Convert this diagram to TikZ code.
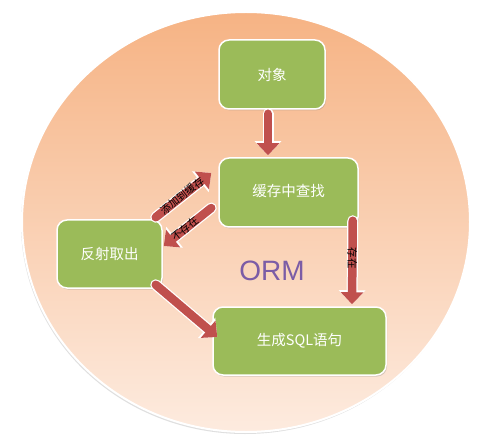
\documentclass[tikz,border=0pt]{standalone}
\usepackage{fontspec}
\setmainfont{Noto Sans CJK SC}
\newfontfamily\ormfont{Liberation Sans}
\usetikzlibrary{arrows.meta,calc,shadows}
\definecolor{boxgreen}{HTML}{9BBB59}
\definecolor{arrred}{HTML}{C0504D}
\definecolor{ormpurple}{HTML}{7B5CA6}
\definecolor{ringtop}{HTML}{F6B384}
\definecolor{ringbot}{HTML}{FDEBDF}
\begin{document}
\begin{tikzpicture}[x=1pt,y=-1pt,
  box/.style={draw=white,line width=1.5pt,fill=boxgreen,rounded corners=10pt,
    text=white,font=\fontsize{14.5}{16}\selectfont,inner sep=0pt,
    drop shadow={shadow xshift=1pt,shadow yshift=-1.5pt,opacity=0.3}},
  barrow/.style={line width=8.5pt,draw=arrred,line cap=round,
    -{Triangle[length=12pt,width=22pt]},
    preaction={draw=white,line width=11pt,line cap=round,-{Triangle[length=14pt,width=26pt]}}},
  alabel/.style={font=\fontsize{10.5}{11}\selectfont,text=black,inner sep=0pt}]
\useasboundingbox[fill=white] (0,0) rectangle (500,446);
\shade[top color=ringtop,bottom color=ringbot,draw=white,line width=2pt,
  drop shadow={shadow xshift=-1pt,shadow yshift=-2pt,opacity=0.25}]
  (246,222) ellipse [x radius=224, y radius=210];
\node[box,minimum width=106pt,minimum height=69pt] (obj) at (272,74.5) {对象};
\node[box,minimum width=139pt,minimum height=69pt] (cache) at (288.5,192.5) {\raisebox{4pt}{缓存中查找}};
\node[box,minimum width=105pt,minimum height=68pt] (refl) at (109.5,254) {反射取出};
\node[box,minimum width=173pt,minimum height=68pt] (sql) at (299.5,341) {生成SQL语句};
\node[text=ormpurple,font=\ormfont\fontsize{28}{30}\selectfont] (orm) at (272,271) {ORM};
\draw[barrow] ($(obj.south)+(-4,4)$) -- ($(cache.north)+(-20.5,-2)$);
\draw[barrow] ($(cache.south east)+(-6,-7)$) -- node[alabel,rotate=-90,pos=0.45]{存在} ($(sql.north)+(52.5,-2)$);
\draw[barrow] ($(refl.north east)+(-7,-2)$) -- node[alabel,sloped,pos=0.48]{添加到缓存} ($(cache.west)+(-7,-19.5)$);
\draw[barrow] ($(cache.west)+(-7,15.5)$) -- node[alabel,sloped,pos=0.55]{不存在} ($(refl.east)+(1,-8)$);
\draw[barrow] ($(refl.south east)+(-7,-4)$) -- ($(sql.west)+(5,-4)$);
\end{tikzpicture}
\end{document}
